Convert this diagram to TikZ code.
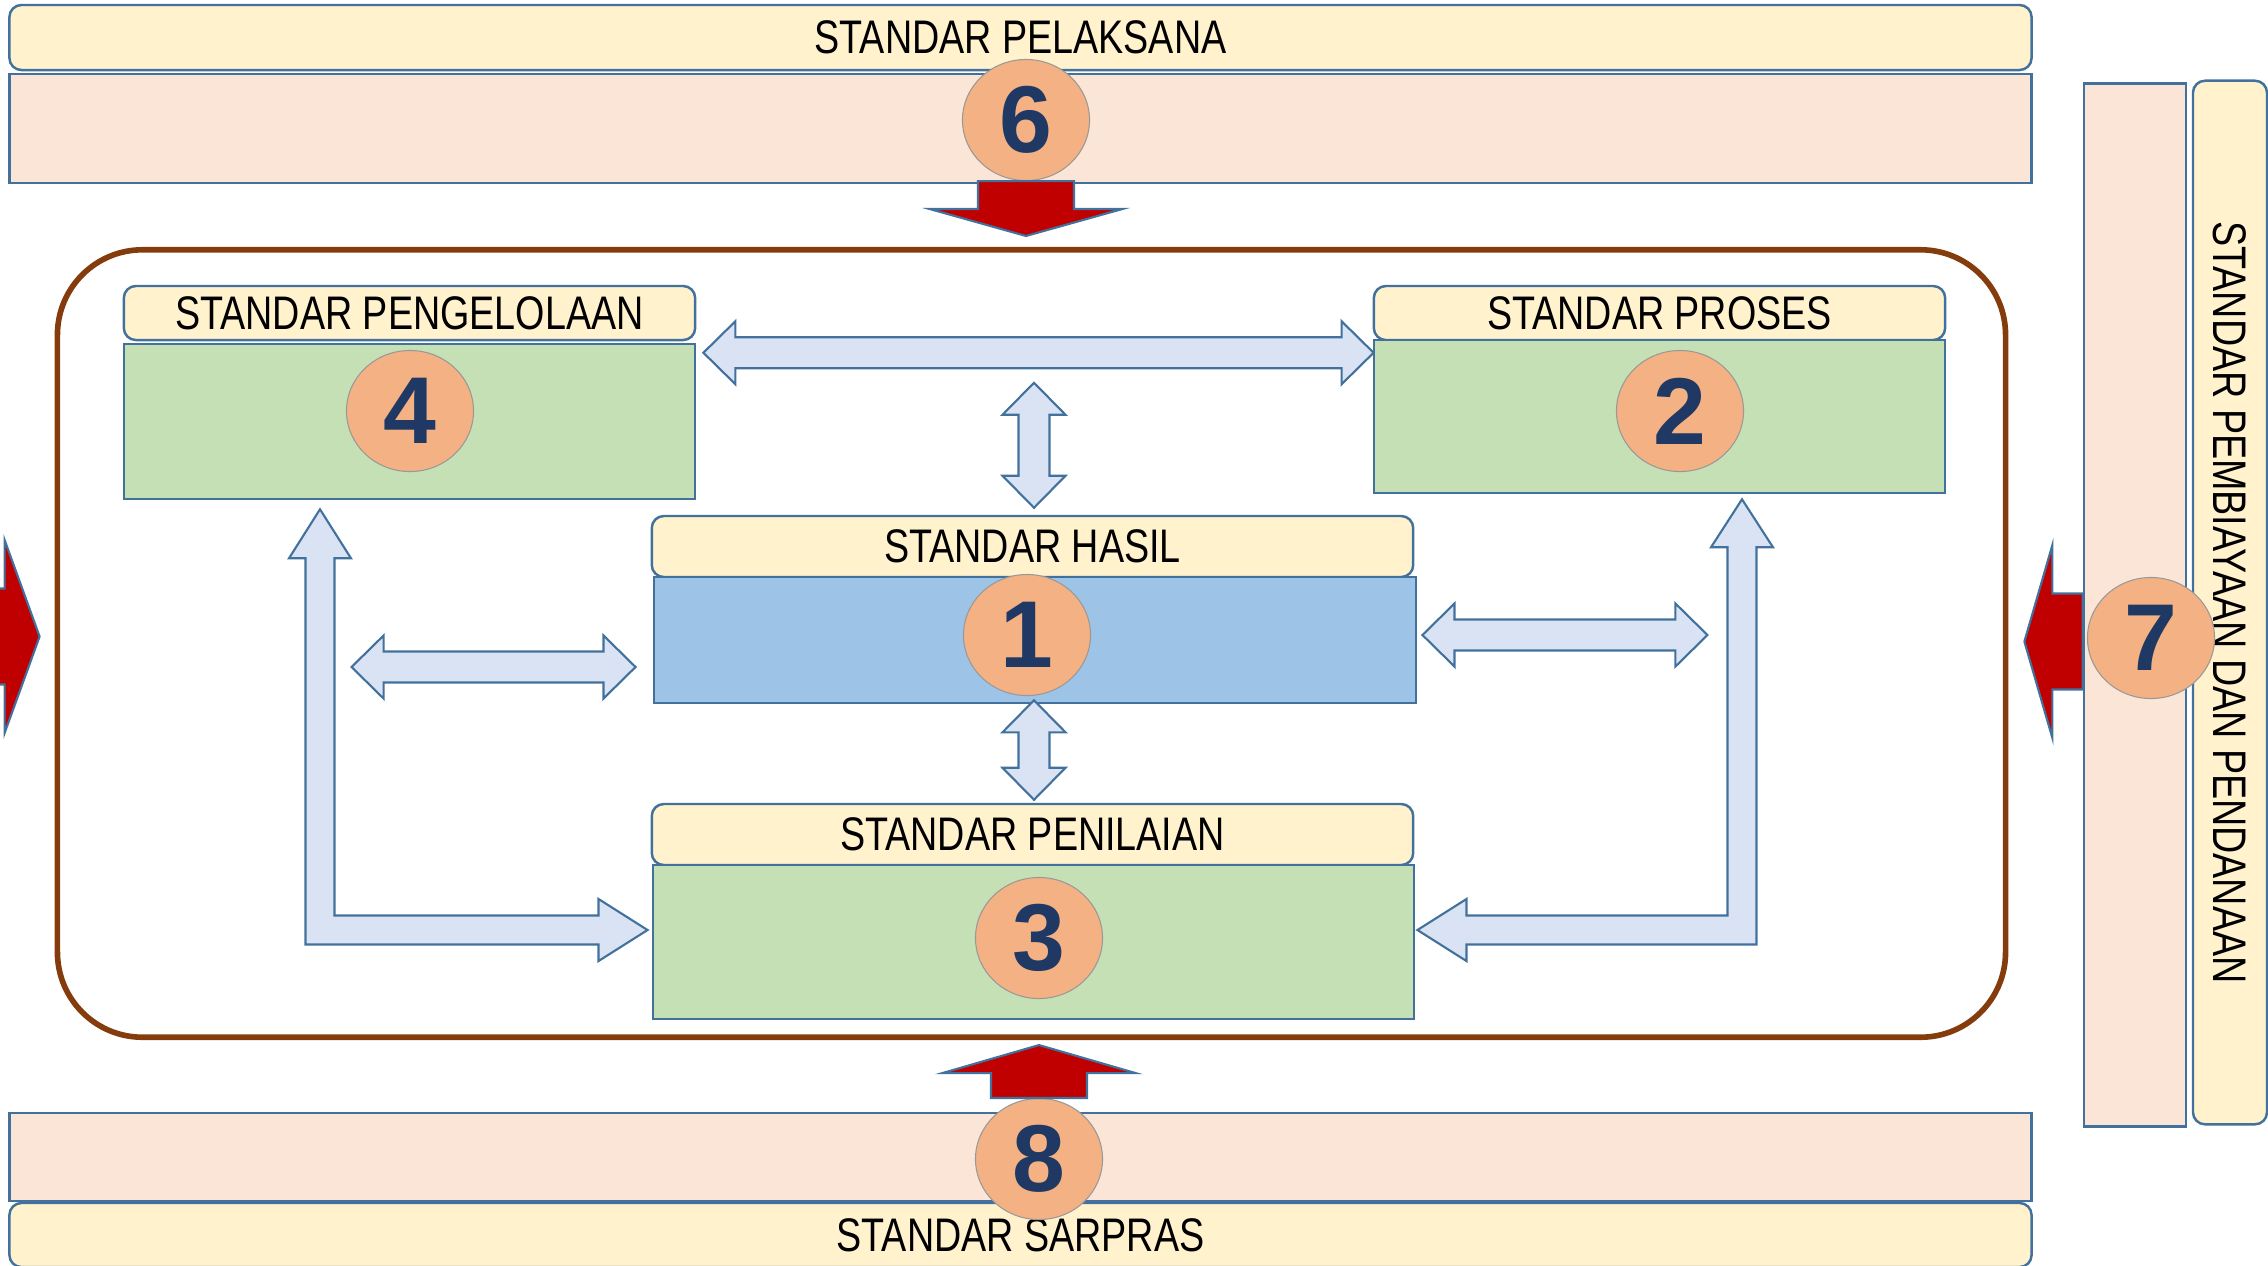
\documentclass[tikz,border=0pt]{standalone}
\usepackage{fontspec}
\setmainfont{Liberation Sans}
\newfontfamily\lblfont{Liberation Sans}[FakeStretch=0.8]
\usepackage{xcolor}
\usetikzlibrary{positioning,shapes.geometric,calc}

\definecolor{kuning}{HTML}{FFF2CC}
\definecolor{merahmuda}{HTML}{FBE5D6}
\definecolor{hijau}{HTML}{C5E0B4}
\definecolor{biru}{HTML}{9DC3E6}
\definecolor{oranye}{HTML}{F4B183}
\definecolor{navy}{HTML}{1F3864}
\definecolor{garis}{HTML}{41719C}
\definecolor{birumuda}{HTML}{DAE3F3}
\definecolor{merah}{HTML}{C00000}
\definecolor{coklat}{HTML}{843C0C}

% fat two-way arrow between two points
\newcommand{\duaarah}[2]{%
  \coordinate (tw1) at ($(#1)!0.32cm!(#2)$);
  \coordinate (tw2) at ($(#2)!0.32cm!(#1)$);
  \path[panahbiru] (#1) -- ($(tw1)!0.315cm!90:(#2)$) -- ($(tw1)!0.155cm!90:(#2)$)
    -- ($(tw2)!0.155cm!-90:(#1)$) -- ($(tw2)!0.315cm!-90:(#1)$) -- (#2)
    -- ($(tw2)!0.315cm!90:(#1)$) -- ($(tw2)!0.155cm!90:(#1)$)
    -- ($(tw1)!0.155cm!-90:(#2)$) -- ($(tw1)!0.315cm!-90:(#2)$) -- cycle;}
% fat red arrow from base to tip, #3 = head length
\newcommand{\dorong}[3]{%
  \coordinate (pa) at ($(#2)!#3!(#1)$);
  \path[panahmerah] ($(#1)!0.48cm!90:(#2)$) -- ($(pa)!0.48cm!90:(#2)$)
    -- ($(pa)!0.965cm!90:(#2)$) -- (#2) -- ($(pa)!0.965cm!-90:(#2)$)
    -- ($(pa)!0.48cm!-90:(#2)$) -- ($(#1)!0.48cm!-90:(#2)$) -- cycle;}

\begin{document}
\begin{tikzpicture}[x=0.01cm, y=-0.01cm,
    judul/.style={draw=garis, fill=kuning, line width=0.7pt, rounded corners=0.12cm, inner sep=0pt,
      font={\lblfont\fontsize{13.4pt}{14pt}\selectfont}},
    pita/.style={draw=garis, fill=merahmuda, line width=0.7pt, inner sep=0pt},
    isi/.style={draw=garis, line width=0.7pt, inner sep=0pt},
    bulat/.style={ellipse, draw=gray!80, line width=0.3pt, fill=oranye, inner sep=0pt,
      minimum width=1.27cm, minimum height=1.21cm, text=navy,
      font={\bfseries\fontsize{27pt}{28pt}\selectfont}},
    bingkai/.style={draw=coklat, line width=1.6pt, rounded corners=0.85cm, inner sep=0pt},
    panahbiru/.style={draw=garis, fill=birumuda, line width=0.6pt, line join=miter},
    panahmerah/.style={draw=garis, fill=merah, line width=0.6pt, line join=miter}]
  \useasboundingbox (0,0) rectangle (2268,1265);

  \node[judul, minimum width=20.21cm, minimum height=0.65cm] (hdr6) at (1020.5,37.5) {STANDAR PELAKSANA};
  \node[pita, minimum width=20.21cm, minimum height=1.09cm] (band6) at (1020.5,128.5) {};
  \node[pita, minimum width=20.21cm, minimum height=0.88cm] (band8) at (1020.5,1157) {};
  \node[judul, minimum width=20.21cm, minimum height=0.64cm] (hdr8) at (1020.5,1235) {STANDAR SARPRAS};
  \node[pita, minimum width=1.02cm, minimum height=10.42cm] (band7) at (2135,605) {};
  \node[judul, rotate=-90, minimum width=10.43cm, minimum height=0.74cm] (hdr7) at (2230,602.5) {STANDAR PEMBIAYAAN DAN PENDANAAN};

  \node[bingkai, minimum width=19.47cm, minimum height=7.87cm] (frame) at (1031.5,643.5) {};

  \node[judul, minimum width=5.71cm, minimum height=0.54cm] (h4) at (409.5,313) {STANDAR PENGELOLAAN};
  \node[isi, fill=hijau, minimum width=5.71cm, minimum height=1.55cm] (b4) at (409.5,421.5) {};
  \node[judul, minimum width=5.71cm, minimum height=0.54cm] (h2) at (1659.5,313) {STANDAR PROSES};
  \node[isi, fill=hijau, minimum width=5.71cm, minimum height=1.53cm] (b2) at (1659.5,416.5) {};
  \node[judul, minimum width=7.61cm, minimum height=0.61cm] (h1) at (1032.5,546.5) {STANDAR HASIL};
  \node[isi, fill=biru, minimum width=7.62cm, minimum height=1.26cm] (b1) at (1035,640) {};
  \node[judul, minimum width=7.61cm, minimum height=0.61cm] (h3) at (1032.5,834.5) {STANDAR PENILAIAN};
  \node[isi, fill=hijau, minimum width=7.61cm, minimum height=1.54cm] (b3) at (1033.5,942) {};

  % blue links
  \coordinate (a42) at ($(b4.north east)+(7,10)$);
  \coordinate (a24) at ($(b2.north west)+(1,14)$);
  \coordinate (atop) at ($(h1.north)+(1.5,-132)$);
  \coordinate (a1up) at ($(h1.north)+(1.5,-7)$);
  \coordinate (a1dn) at ($(b1.south)+(-1,-4)$);
  \coordinate (a3up) at ($(h3.north)+(1.5,-3)$);
  \coordinate (aL1) at ($(b1.west)+(-301,27)$);
  \coordinate (aL2) at ($(b1.west)+(-17,27)$);
  \coordinate (aR1) at ($(b1.east)+(5,-5)$);
  \coordinate (aR2) at ($(b1.east)+(290,-5)$);
  \duaarah{a42}{a24}
  \duaarah{atop}{a1up}
  \duaarah{a1dn}{a3up}
  \duaarah{aL1}{aL2}
  \duaarah{aR1}{aR2}

  \coordinate (la) at ($(b4.south)+(-89.5,9)$);
  \coordinate (lb) at ($(b3.west)+(-4,-12)$);
  \path[panahbiru] (la) -- ++(31,49) -- ++(-16.5,0) -- ($(la |- lb)+(14.5,-14.5)$)
    -- ($(lb)+(-49,-14.5)$) -- ++(0,-16.5) -- (lb) -- ++(-49,31) -- ++(0,-16.5)
    -- ($(la |- lb)+(-14.5,14.5)$) -- ($(la)+(-14.5,49)$) -- ++(-16.5,0) -- cycle;
  \coordinate (ra) at ($(b2.south)+(82.5,5)$);
  \coordinate (rb) at ($(b3.east)+(2,-12)$);
  \path[panahbiru] (ra) -- ++(31,48) -- ++(-16.5,0) -- ($(ra |- rb)+(14.5,14.5)$)
    -- ($(rb)+(49,14.5)$) -- ++(0,16.5) -- (rb) -- ++(49,-31) -- ++(0,16.5)
    -- ($(ra |- rb)+(-14.5,-14.5)$) -- ($(ra)+(-14.5,48)$) -- ++(-16.5,0) -- cycle;

  \node[bulat] (c6) at (1026,120) {6};
  \node[bulat] (c4) at (410,411) {4};
  \node[bulat] (c2) at (1680,411) {2};
  \node[bulat] (c1) at (1027,635) {1};
  \node[bulat] (c3) at (1039,938) {3};
  \node[bulat] (c8) at (1039,1159) {8};

  % red pushes
  \coordinate (p6) at ($(c6.south |- frame.north)+(0,-11)$);
  \dorong{c6.south}{p6}{0.27cm}
  \coordinate (p8) at ($(c8.north |- frame.south)+(0,5)$);
  \dorong{c8.north}{p8}{0.28cm}
  \coordinate (p7) at ($(frame.east)+(16,-2)$);
  \coordinate (p7a) at (band7.west |- p7);
  \dorong{p7a}{p7}{0.28cm}
  \coordinate (p5) at ($(frame.west)+(-15,-7)$);
  \coordinate (p5a) at ($(frame.west)+(-100,-7)$);
  \dorong{p5a}{p5}{0.35cm}

  \node[bulat] (c7) at (2151,638) {7};
\end{tikzpicture}
\end{document}
